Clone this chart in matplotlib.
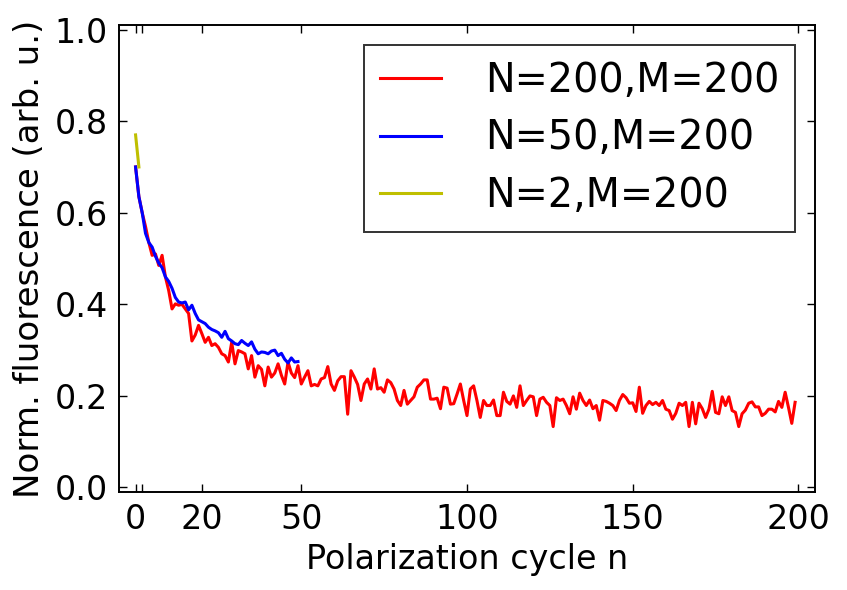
import numpy as np
import matplotlib as mpl
mpl.use("Agg")
import matplotlib.pyplot as plt

# normalised fluorescence per polarization cycle
red_200 = [
    0.70, 0.635, 0.60, 0.57, 0.535, 0.507, 0.51, 0.485, 0.507, 0.46,
    0.43, 0.39, 0.401, 0.398, 0.40, 0.39, 0.38, 0.32, 0.333, 0.354,
    0.336, 0.317, 0.328, 0.31, 0.314, 0.306, 0.292, 0.288, 0.274, 0.317,
    0.27, 0.299, 0.296, 0.292, 0.259, 0.288, 0.241, 0.266, 0.258, 0.222,
    0.263, 0.241, 0.25, 0.27, 0.245, 0.226, 0.274, 0.25, 0.24, 0.266,
    0.226, 0.241, 0.255, 0.222, 0.225, 0.222, 0.237, 0.24, 0.264, 0.226,
    0.212, 0.233, 0.242, 0.242, 0.16, 0.255, 0.241, 0.225, 0.19, 0.226,
    0.237, 0.215, 0.259, 0.215, 0.218, 0.208, 0.235, 0.229, 0.215, 0.19,
    0.179, 0.212, 0.182, 0.19, 0.198, 0.219, 0.226, 0.235, 0.235, 0.193,
    0.193, 0.195, 0.172, 0.219, 0.217, 0.182, 0.183, 0.204, 0.226, 0.19,
    0.157, 0.215, 0.222, 0.19, 0.153, 0.19, 0.179, 0.179, 0.191, 0.157,
    0.157, 0.208, 0.188, 0.182, 0.20, 0.175, 0.222, 0.179, 0.19, 0.20,
    0.198, 0.157, 0.193, 0.197, 0.186, 0.179, 0.133, 0.196, 0.19, 0.193,
    0.179, 0.161, 0.198, 0.171, 0.206, 0.19, 0.179, 0.191, 0.172, 0.179,
    0.147, 0.19, 0.188, 0.184, 0.179, 0.168, 0.19, 0.203, 0.196, 0.184,
    0.185, 0.166, 0.219, 0.162, 0.179, 0.188, 0.181, 0.186, 0.179, 0.19,
    0.171, 0.168, 0.149, 0.162, 0.184, 0.179, 0.186, 0.133, 0.186, 0.139,
    0.184, 0.172, 0.153, 0.171, 0.21, 0.164, 0.161, 0.198, 0.179, 0.198,
    0.168, 0.164, 0.133, 0.161, 0.169, 0.184, 0.187, 0.176, 0.176, 0.157,
    0.162, 0.171, 0.171, 0.165, 0.188, 0.175, 0.208, 0.175, 0.14, 0.186,
]
blue_50 = [
    0.70, 0.635, 0.60, 0.555, 0.535, 0.525, 0.505, 0.49, 0.48, 0.46,
    0.45, 0.435, 0.415, 0.405, 0.403, 0.405, 0.388, 0.398, 0.38, 0.366,
    0.362, 0.358, 0.35, 0.345, 0.342, 0.338, 0.328, 0.341, 0.325, 0.32,
    0.314, 0.312, 0.321, 0.315, 0.31, 0.318, 0.302, 0.292, 0.296, 0.295,
    0.292, 0.298, 0.30, 0.288, 0.293, 0.28, 0.272, 0.283, 0.274, 0.275,
]
yellow_2 = [0.77, 0.70]

labels = ["N=200,M=200", "N=50,M=200", "N=2,M=200"]
xticks = [0, 2, 20, 50, 100, 150, 200]
xticklabels = ["0", "", "20", "50", "100", "150", "200"]
yticks = [0.0, 0.2, 0.4, 0.6, 0.8, 1.0]

mpl.rcParams.update({"font.family": "DejaVu Sans", "font.size": 24})

fig = plt.figure(figsize=(8.47, 5.9), dpi=100)
ax = fig.add_axes([0.1405, 0.166, 0.9622 - 0.1405, 0.9576 - 0.166])

ax.plot(np.arange(len(red_200)), red_200, color="#ff0000", lw=2.2, label=labels[0])
ax.plot(np.arange(len(blue_50)), blue_50, color="#0000ff", lw=2.2, label=labels[1])
ax.plot(np.arange(len(yellow_2)), yellow_2, color="#bfbf00", lw=2.2, label=labels[2])

ax.set_xlim(-5, 205)
ax.set_ylim(-0.01, 1.01)
ax.set_xticks(xticks)
ax.set_xticklabels(xticklabels)
ax.set_yticks(yticks)
ax.set_yticklabels([f"{v:.1f}" for v in yticks])
ax.tick_params(direction="in", top=True, right=True, length=6, width=1, pad=8, labelsize=24)
for s in ax.spines.values():
    s.set_linewidth(1.4)

ax.set_xlabel("Polarization cycle n", fontsize=24, labelpad=5)
ax.set_ylabel("Norm. fluorescence (arb. u.)", fontsize=24.5, labelpad=6)

leg = ax.legend(loc="upper right", fontsize=28.5, frameon=True, fancybox=False,
                handlelength=1.55, handletextpad=1.1, borderpad=0.4,
                labelspacing=0.45, borderaxespad=0.5)
leg.get_frame().set_edgecolor("black")
leg.get_frame().set_linewidth(1.4)

fig.savefig("out.png", dpi=100)
